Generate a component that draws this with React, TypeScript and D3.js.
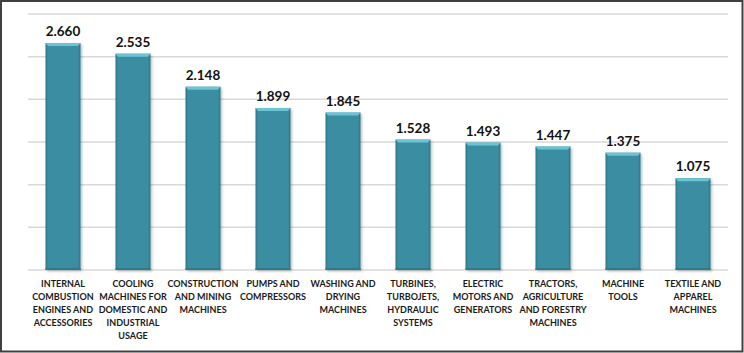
import React from 'react';
import * as d3 from 'd3';

// data
const categories: string[][] = [
  ['INTERNAL', 'COMBUSTION', 'ENGINES AND', 'ACCESSORIES'],
  ['COOLING', 'MACHINES FOR', 'DOMESTIC AND', 'INDUSTRIAL', 'USAGE'],
  ['CONSTRUCTION', 'AND MINING', 'MACHINES'],
  ['PUMPS AND', 'COMPRESSORS'],
  ['WASHING AND', 'DRYING', 'MACHINES'],
  ['TURBINES,', 'TURBOJETS,', 'HYDRAULIC', 'SYSTEMS'],
  ['ELECTRIC', 'MOTORS AND', 'GENERATORS'],
  ['TRACTORS,', 'AGRICULTURE', 'AND FORESTRY', 'MACHINES'],
  ['MACHINE', 'TOOLS'],
  ['TEXTILE AND', 'APPAREL', 'MACHINES'],
];
const values: number[] = [2.66, 2.535, 2.148, 1.899, 1.845, 1.528, 1.493, 1.447, 1.375, 1.075];
const gridTicks: number[] = [0.5, 1, 1.5, 2, 2.5, 3];

const W = 744;
const H = 353;
const FONT = 'Lato, "Open Sans", sans-serif';

const App: React.FC = () => {
  const ids = categories.map((_, i) => String(i));
  const x = d3.scaleBand<string>().domain(ids).range([28, 728]).paddingInner(0.5).paddingOuter(0.25);
  const y = d3.scaleLinear().domain([0, 3]).range([270, 14]);
  const fmt = d3.format('.3f');
  const bw = x.bandwidth();

  return (
    <svg width={W} height={H} style={{ position: 'absolute', left: 0, top: 0 }} fontFamily={FONT}>
      <defs>
        <linearGradient id="barGrad" x1="0" x2="1" y1="0" y2="0">
          <stop offset="0%" stopColor="#2a7384" />
          <stop offset="7%" stopColor="#3a8ea2" />
          <stop offset="93%" stopColor="#3a8ea2" />
          <stop offset="100%" stopColor="#2a7384" />
        </linearGradient>
        <filter id="shadow" x="-20%" y="-5%" width="140%" height="110%">
          <feDropShadow dx="1.5" dy="1.5" stdDeviation="1.2" floodColor="#000" floodOpacity="0.25" />
        </filter>
      </defs>
      <rect x={0} y={0} width={W} height={H} fill="#fff" />
      <rect x={1} y={1} width={W - 2.5} height={H - 2.5} fill="none" stroke="#404040" strokeWidth={2} />

      {gridTicks.map((t) => (
        <line key={t} x1={28} x2={728} y1={y(t)} y2={y(t)} stroke="#d9d9d9" strokeWidth={1.5} />
      ))}
      <line x1={28} x2={728} y1={y(0)} y2={y(0)} stroke="#d9d9d9" strokeWidth={1.5} />

      {values.map((v, i) => {
        const x0 = x(String(i)) as number;
        const top = y(v);
        const bottom = y(0);
        const cx = x0 + bw / 2;
        return (
          <g key={i}>
            <rect x={x0} y={top} width={bw} height={bottom - top} fill="url(#barGrad)" filter="url(#shadow)" />
            <path
              d={`M${x0},${top}L${x0 + bw},${top}L${x0 + bw - 2.5},${top + 3}L${x0 + 2.5},${top + 3}Z`}
              fill="#6cc3d6"
            />
            <rect x={x0} y={bottom - 2} width={bw} height={2} fill="#2e7b8d" />
            <text x={cx} y={top - 7} textAnchor="middle" fontWeight={700} fontSize={13.5} fill="#111">
              {fmt(v)}
            </text>
            {categories[i].map((line, j) => (
              <text key={j} x={cx} y={287 + j * 13} textAnchor="middle" fontWeight={700} fontSize={9} fill="#1a1a1a">
                {line}
              </text>
            ))}
          </g>
        );
      })}
    </svg>
  );
};

export default App;
